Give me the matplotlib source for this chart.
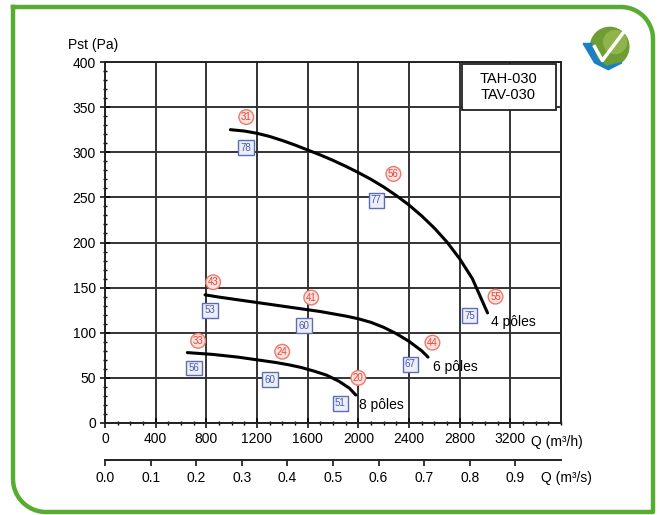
import numpy as np
import matplotlib
matplotlib.use("Agg")
import matplotlib.pyplot as plt
from matplotlib.ticker import MultipleLocator
from matplotlib.patches import Circle, Polygon, Rectangle

plt.rcParams['font.family'] = ['Liberation Sans', 'DejaVu Sans']

# curves (Q in m3/h, Pst in Pa)
q4 = [990, 1100, 1200, 1300, 1400, 1500, 1600, 1700, 1800, 1900, 2000,
      2100, 2200, 2300, 2400, 2500, 2600, 2700, 2800, 2900, 3020]
p4 = [325, 323.5, 321, 317.5, 313, 308, 302.5, 297, 291, 284.5, 277.5,
      270, 261.5, 252, 241.5, 229.5, 216, 200.5, 182, 160, 122]
q6 = [790, 900, 1000, 1100, 1200, 1300, 1400, 1500, 1600, 1700, 1800,
      1900, 2000, 2100, 2200, 2300, 2400, 2500, 2550]
p6 = [142, 139.5, 137.5, 135.5, 133.5, 131.5, 129.5, 127.5, 125.5, 123.5, 121,
      118.5, 115.5, 111.5, 106, 99, 90.5, 80, 73]
q8 = [650, 750, 850, 950, 1050, 1150, 1250, 1350, 1450, 1550, 1650,
      1750, 1850, 1930, 1980]
p8 = [78, 77, 76, 74.5, 73, 71, 69, 67, 64.5, 61.5, 57.5,
      53, 46, 38.5, 31]

curve_names = ["4 pôles", "6 pôles", "8 pôles"]
name_q = [3050, 2590, 2005]
name_p = [112, 62, 20]

# red circled values
red_vals = ["31", "56", "55", "43", "41", "44", "33", "24", "20"]
red_q = [1115, 2277, 3083, 854, 1628, 2585, 735, 1399, 2000]
red_p = [339, 276, 140, 156, 139, 89, 91, 79, 50]

# blue boxed values
blue_vals = ["78", "77", "75", "53", "60", "67", "56", "60", "51"]
blue_q = [1115, 2142, 2877, 830, 1573, 2411, 704, 1304, 1858]
blue_p = [305, 247, 119, 125, 108, 65, 61, 48, 22]

W, H = 660, 515
fig = plt.figure(figsize=(W / 100, H / 100), dpi=100)

# green frame with two rounded corners
bg = fig.add_axes([0, 0, 1, 1])
bg.set_xlim(0, W); bg.set_ylim(H, 0); bg.axis('off')
r1, r2 = 32, 33
t = np.linspace(0, np.pi / 2, 20)
xs = [13, 653 - r1]
ys = [7, 7]
xs += list(653 - r1 + r1 * np.sin(t)); ys += list(7 + r1 - r1 * np.cos(t))
xs += [653, 13 + r2]; ys += [512, 512]
xs += list(13 + r2 - r2 * np.sin(t)); ys += list(512 - r2 + r2 * np.cos(t))
xs += [13]; ys += [7]
bg.plot(xs, ys, color='#56ad2f', lw=3.2, solid_joinstyle='round')

ax = fig.add_axes([105 / W, 92 / H, 456 / W, 361 / H])
ax.set_xlim(0, 3600)
ax.set_ylim(0, 400)
ax.set_xticks(range(0, 3201, 400))
ax.set_yticks(range(0, 401, 50))
ax.xaxis.set_minor_locator(MultipleLocator(100))
ax.yaxis.set_minor_locator(MultipleLocator(10))
ax.grid(True, which='major', color='#333333', lw=1.4)
ax.tick_params(which='major', direction='inout', length=7, width=1.1, labelsize=10, pad=3)
ax.tick_params(which='minor', direction='inout', length=3, width=1)
for s in ax.spines.values():
    s.set_color('#222222'); s.set_linewidth(1.4)

for q, p in [(q4, p4), (q6, p6), (q8, p8)]:
    ax.plot(q, p, color='black', lw=2.2, solid_capstyle='round',
            solid_joinstyle='round', zorder=4)

for name, q, p in zip(curve_names, name_q, name_p):
    ax.text(q, p, name, fontsize=10, ha='left', va='center', zorder=5)

for v, q, p in zip(red_vals, red_q, red_p):
    ax.text(q, p, v, fontsize=7, color='#e0463a', ha='center', va='center', zorder=5,
            bbox=dict(boxstyle='circle,pad=0.2', fc='#fde2de', ec='#ec7a6e', lw=1))
for v, q, p in zip(blue_vals, blue_q, blue_p):
    ax.text(q, p, v, fontsize=7, color='#4a5aa8', ha='center', va='center', zorder=5,
            bbox=dict(boxstyle='square,pad=0.25', fc='#eceffa', ec='#5d6db4', lw=1))

# model box in the top right corner
ax.add_patch(Rectangle((0.783, 0.868), 0.205, 0.126, transform=ax.transAxes,
                       fc='white', ec='#222222', lw=1.3, zorder=6))
ax.text(0.885, 0.931, "TAH-030\nTAV-030", transform=ax.transAxes, fontsize=10.5,
        ha='center', va='center', linespacing=1.15, zorder=7)

# second flow scale in m3/s
sec = ax.secondary_xaxis(-37 / 361, functions=(lambda q: q / 3600, lambda s: s * 3600))
sec.set_xticks(np.arange(0, 0.95, 0.1))
sec.set_xticklabels(["%.1f" % v for v in np.arange(0, 0.95, 0.1)])
sec.tick_params(direction='out', length=4, width=1.1, labelsize=10, pad=4)
sec.spines['bottom'].set_linewidth(1.4)
sec.spines['bottom'].set_color('#222222')

fig.text(531 / W, 1 - 442 / H, "Q (m³/h)", fontsize=10, ha='left', va='center')
fig.text(541 / W, 1 - 478 / H, "Q (m³/s)", fontsize=10, ha='left', va='center')
fig.text(68 / W, 1 - 45 / H, "Pst (Pa)", fontsize=10, ha='left', va='center')

# logo
lg = fig.add_axes([574 / W, 1 - 72 / H, 64 / W, 46 / H])
lg.set_xlim(0, 1.4); lg.set_ylim(0, 1); lg.axis('off')
lg.add_patch(Circle((0.78, 0.55), 0.42, color='#6e9d34'))
lg.add_patch(Circle((0.9, 0.65), 0.25, color='#8fb54a'))
lg.add_patch(Polygon([[0.2, 0.62], [0.45, 0.2], [0.75, 0.05], [1.05, 0.2], [0.7, 0.12],
                      [0.5, 0.3], [0.38, 0.62]], color='#1b7fc1'))
lg.plot([0.45, 0.62, 1.15], [0.55, 0.25, 0.95], color='white', lw=2.5)

fig.savefig("out.png", dpi=100)
